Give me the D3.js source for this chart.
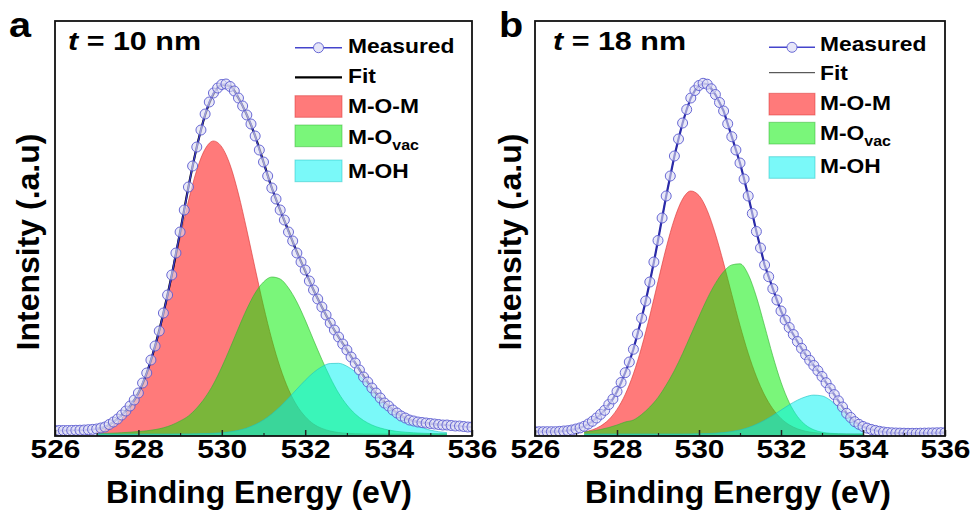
<!DOCTYPE html>
<html>
<head>
<meta charset="utf-8">
<script src="https://cdn.jsdelivr.net/npm/d3@7"></script>
<style>
  body { margin: 0; background: #fff; }
  svg { display: block; }
  text { font-family: "Liberation Sans", Arial, sans-serif; font-weight: bold; fill: #000; }
</style>
</head>
<body>
<main></main>
<script>
// ---- data (binding energy in eV, intensity in a.u.) ----
const measuredStart = 526, measuredStep = 0.1;
const majorTicks = [526, 528, 530, 532, 534, 536];
const minorTicks = [527, 529, 531, 533, 535];
const seriesNames = ['Measured', 'Fit', 'M-O-M', 'M-O', 'M-OH'];

// panel a, t = 10 nm
const measuredA = [5.5,5.5,5.5,5.5,5.6,5.7,5.8,6,6.3,6.6,
  7,8,9,11.5,14,17,21,25,30,36,
  43,53,63,76,90,105,123,141,161,183,
  204,226,249,270,289,306,322,334,343,348,
  351.5,352,349.5,345,338,330,321,312,300,286,
  274,260,248,237,226,216,204,195,183,174,
  166,155,146,137,129,121,113,106,99,92,
  86,79,73,66,59,54,48,43,38,33,
  30,26,23,20,18,16,15,14,13.5,13,
  12.5,12,11.5,11,11,10.5,10,10,9.5,9,
  9];
const compStartA = 527.0, compStepA = 0.2;
const fitA = [7,9,14,21,30,43,63,90,123,161,204,249,289,321,342,351,350,338,321,300,274,248,226,205,184,165,146,129,113,99,86,73,60,48,38,30,23,18,15,13.5,12.5,11.5,11];
const momA = [4.6,6.9,11,17.6,28,43,63.5,90,123,160,198,235,266,287,295,289,271,242,206,167.5,130,96.5,68.5,46.5,30.5,19.5,12,7.6,5,3.5,2.7,2.3,2.1,2,2,2,2,2,2,2,2,2,2];
const movacA = [2.4,2.6,2.9,3.3,3.8,4.4,5.2,6.4,8.2,11,15,20,28,38.5,52,69,88,108,127,143,154,159,157,148,134,116,96,76.5,58.5,43,31,22,15.5,11,8,6,4.6,3.8,3.2,2.8,2.5,2.3,2.2];
const mohA = [2,2,2,2,2,2,2,2,2,2,2.1,2.1,2.2,2.4,2.7,3.2,4.2,5.7,8,11.4,16.1,22.1,29.4,37.9,46.9,55.7,63.5,69.3,72.5,72.7,69.8,64.2,56.5,47.8,38.8,30.2,22.8,16.6,11.8,8.3,5.9,4.3,3.3];

// panel b, t = 18 nm
const measuredB = [4.3,4.3,4.3,4.3,4.3,4.3,4.6,5,5.3,6,
  7,8.1,9.7,12,14.7,18,21.7,25.7,31.5,37,
  44.5,53.5,63.3,74,86.7,102,117.8,135,154,174,
  195.5,218,240,260,280,297,313,326.5,338,345.5,
  350.5,352.7,351.8,347.2,341.5,333.5,325,312.2,299.3,286,
  273,257,240,222.5,204.5,188,171,159.3,147.3,136,
  125,116,108.5,101.5,94.5,87.7,81.3,75.7,70.5,65.3,
  59.5,53.3,47.5,41.4,35.2,29,22.7,18.5,14.3,11.7,
  9.5,7.9,6.6,5.6,4.7,4,3.5,3.2,3,2.9,
  2.8,2.7,2.7,2.7,2.8,2.9,3,3.1,3.2,3.3,
  3.3];
const compStartB = 527.2, compStepB = 0.2;
const fitB = [9.7,14.7,21.7,31.5,44.5,63.3,86.7,117.8,154,195.5,240,279,313,338,350.5,352,341.5,325,299.3,273,240,204.5,171,147.3,125,108.5,94.5,81.3,70.5,59.5,47.5,35.2,22.7,14.3,9.5];
const momB = [4.1,6.2,10,16.4,26.6,41.5,62.2,88.8,120.3,154.6,188.3,217,237,245,240.5,225.6,202,173,141.5,110.6,82.8,59.4,40.9,27.2,17.6,11.2,7.2,4.8,3.4,2.7,2.3,2.1,2,2,2];
const movacB = [4,5,6.5,8.5,11,14,16,21.5,29,38.5,51,65.5,82.5,101,119.5,137.3,152.6,164.3,171.1,172.2,161.6,139.2,110.1,80.2,53.8,33.5,19.6,11,6.2,3.8,2.7,2.3,2.1,2,2];
const mohB = [2,2,2,2,2,2,2,2,2,2,2,2,2,2.1,2.2,2.4,2.8,3.4,4.5,6.1,8.4,11.7,15.8,20.6,25.9,31.2,35.8,39.2,40.9,40.1,35.9,29.1,21.5,14.7,8];

// ---- layout ----
const W = 973, H = 515;
const plotTop = 21, plotBottom = 436;
const svg = d3.select('main').append('svg').attr('width', W).attr('height', H);

const y = d3.scaleLinear().domain([0, 415]).range([plotBottom, plotTop]);

const panels = [
  { id: 'a', left: 55, right: 472, letterX: 9, tText: '10', tX: 68, ytX: 28, xtX: 259,
    measured: measuredA, fit: fitA, start: compStartA, step: compStepA, comps: [momA, movacA, mohA],
    fitColor: '#000', fitWidth: 2.2, lineColor: '#3c3cc8', lineWidth: 1.4,
    lg: { x0: 295, x1: 342, tx: 348, rows: [47.7, 77.3, [95.7, 117.3], [125, 146.7], [160, 181.7]], base: [53.3, 83, 113.3, 144, 178.3] } },
  { id: 'b', left: 535, right: 945, letterX: 499, tText: '18', tX: 553, ytX: 510, xtX: 738,
    measured: measuredB, fit: fitB, start: compStartB, step: compStepB, comps: [momB, movacB, mohB],
    fitColor: '#333', fitWidth: 1, lineColor: '#2a2aa8', lineWidth: 2.2,
    lg: { x0: 769, x1: 815, tx: 820, rows: [47.3, 72.7, [93.3, 115], [122.3, 144], [156.7, 178.3]], base: [50.7, 80, 110, 140, 173] } }
];

const compFill = ['#ff0000', '#00ee00', '#00f4f4'];
const compStroke = ['#d83030', '#30b030', '#20c0c0'];

function stretchText(g, x, yy, size, sx, anchor) {
  return g.append('text')
    .attr('transform', `translate(${x},${yy}) scale(${sx},1)`)
    .attr('text-anchor', anchor || 'start')
    .style('font-size', size + 'px');
}

panels.forEach(p => {
  const x = d3.scaleLinear().domain([526, 536]).range([p.left, p.right]);
  const g = svg.append('g');

  const clipId = 'clip-' + p.id;
  svg.append('clipPath').attr('id', clipId).append('rect')
    .attr('x', p.left).attr('y', plotTop).attr('width', p.right - p.left).attr('height', plotBottom - plotTop);
  const plot = g.append('g').attr('clip-path', `url(#${clipId})`);

  // component areas
  p.comps.forEach((vals, i) => {
    const pts = vals.map((v, k) => [p.start + k * p.step, v]);
    const area = d3.area().x(d => x(d[0])).y0(y(0)).y1(d => y(d[1])).curve(d3.curveMonotoneX);
    plot.append('path').datum(pts).attr('d', area)
      .attr('fill', compFill[i]).attr('fill-opacity', 0.52);
    const line = d3.line().x(d => x(d[0])).y(d => y(d[1])).curve(d3.curveMonotoneX);
    plot.append('path').datum(pts).attr('d', line)
      .attr('fill', 'none').attr('stroke', compStroke[i]).attr('stroke-opacity', 0.6).attr('stroke-width', 1);
  });

  // fit line
  const fitPts = p.fit.map((v, k) => [p.start + k * p.step, v]);
  plot.append('path').datum(fitPts)
    .attr('d', d3.line().x(d => x(d[0])).y(d => y(d[1])).curve(d3.curveMonotoneX))
    .attr('fill', 'none').attr('stroke', p.fitColor).attr('stroke-width', p.fitWidth);

  // measured line + circles
  const mPts = p.measured.map((v, k) => [measuredStart + k * measuredStep, v]);
  plot.append('path').datum(mPts)
    .attr('d', d3.line().x(d => x(d[0])).y(d => y(d[1])))
    .attr('fill', 'none').attr('stroke', p.lineColor).attr('stroke-width', p.lineWidth);
  plot.selectAll('circle.m').data(mPts).enter().append('circle')
    .attr('class', 'm')
    .attr('cx', d => x(d[0])).attr('cy', d => y(d[1])).attr('r', 5)
    .attr('fill', '#dcdcf4').attr('fill-opacity', 0.6)
    .attr('stroke', '#5a5ad0').attr('stroke-width', 0.9);

  // axes: inward ticks on the bottom
  const major = d3.axisBottom(x).tickValues(majorTicks).tickSize(-6).tickPadding(4).tickFormat(d3.format('d'));
  const minor = d3.axisBottom(x).tickValues(minorTicks).tickSize(-3).tickFormat('');
  const ax = g.append('g').attr('transform', `translate(0,${plotBottom})`).call(major);
  ax.select('.domain').remove();
  ax.selectAll('line').attr('stroke', '#222').attr('stroke-width', 1.5);
  ax.selectAll('text')
    .attr('transform', 'scale(1.15,1)')
    .style('font-size', '26px').style('font-family', '"Liberation Sans", Arial, sans-serif').style('font-weight', 'bold')
    .attr('fill', '#000');
  const axm = g.append('g').attr('transform', `translate(0,${plotBottom})`).call(minor);
  axm.select('.domain').remove();
  axm.selectAll('line').attr('stroke', '#222').attr('stroke-width', 1.2);

  // frame
  g.append('rect').attr('x', p.left).attr('y', plotTop).attr('width', p.right - p.left).attr('height', plotBottom - plotTop)
    .attr('fill', 'none').attr('stroke', '#111').attr('stroke-width', 1.8);

  // axis titles
  g.append('text').attr('x', p.xtX).attr('y', 503).attr('text-anchor', 'middle')
    .style('font-size', '32px').text('Binding Energy (eV)');
  g.append('text').attr('transform', `translate(${p.ytX + 11},242) rotate(-90)`).attr('text-anchor', 'middle')
    .style('font-size', '32px').text('Intensity (.a.u)');

  // panel letter and thickness label
  stretchText(g, p.letterX, 37, 36, 1.1).text(p.id);
  const tt = stretchText(g, p.tX, 50, 25, 1.22);
  tt.append('tspan').style('font-style', 'italic').text('t');
  tt.append('tspan').text(' = ' + p.tText + ' nm');

  // legend
  const lg = p.lg;
  const ly = lg.rows[0];
  g.append('line').attr('x1', lg.x0).attr('x2', lg.x1).attr('y1', ly).attr('y2', ly)
    .attr('stroke', '#4444cc').attr('stroke-width', 1.6);
  g.append('circle').attr('cx', (lg.x0 + lg.x1) / 2).attr('cy', ly).attr('r', 5)
    .attr('fill', '#e6e6f8').attr('stroke', '#5a5ad0').attr('stroke-width', 0.9);
  g.append('line').attr('x1', lg.x0).attr('x2', lg.x1).attr('y1', lg.rows[1]).attr('y2', lg.rows[1])
    .attr('stroke', p.fitColor).attr('stroke-width', p.fitWidth);
  [2, 3, 4].forEach((r, i) => {
    g.append('rect').attr('x', lg.x0).attr('y', lg.rows[r][0])
      .attr('width', lg.x1 - lg.x0).attr('height', lg.rows[r][1] - lg.rows[r][0])
      .attr('fill', compFill[i]).attr('fill-opacity', 0.52)
      .attr('stroke', compStroke[i]).attr('stroke-opacity', 0.5);
  });
  seriesNames.forEach((name, i) => {
    const t = stretchText(g, lg.tx, lg.base[i], 20, 1.14);
    t.append('tspan').text(name);
    if (name === 'M-O') {
      t.append('tspan').attr('dy', 6).style('font-size', '14px').text('vac');
    }
  });
});
</script>
</body>
</html>
